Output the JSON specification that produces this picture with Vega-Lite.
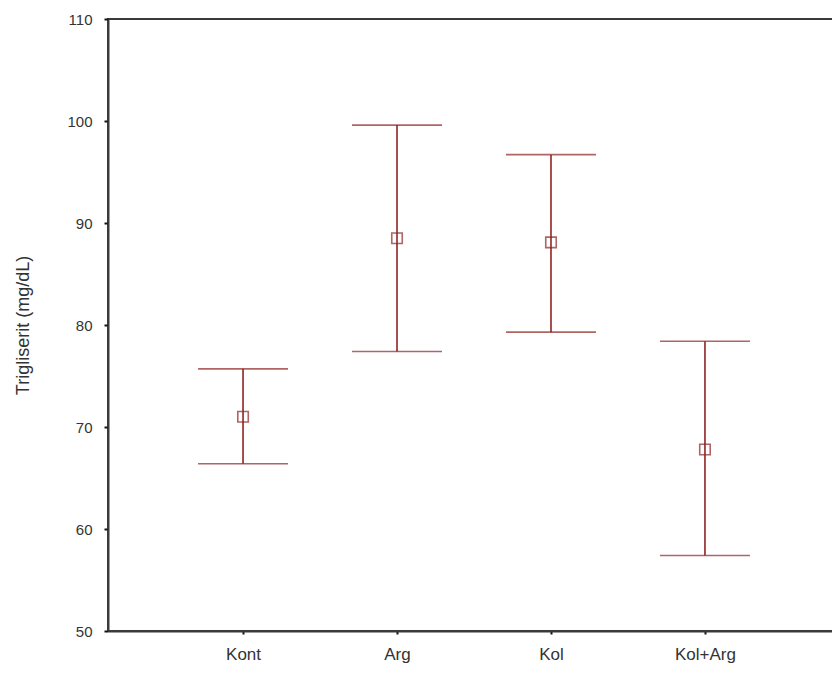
{
  "$schema": "https://vega.github.io/schema/vega-lite/v6.json",
  "width": 732,
  "height": 612,
  "autosize": {"type": "none"},
  "padding": {"left": 108, "top": 19, "right": 0, "bottom": 42},
  "background": "white",
  "config": {
    "view": {"stroke": "#3a3a3a", "strokeWidth": 2},
    "font": "Liberation Sans"
  },
  "data": {
    "values": [
      {"group": "Kont", "mean": 71.0, "lower": 66.4, "upper": 75.7},
      {"group": "Arg", "mean": 88.5, "lower": 77.4, "upper": 99.6},
      {"group": "Kol", "mean": 88.1, "lower": 79.3, "upper": 96.7},
      {"group": "Kol+Arg", "mean": 67.8, "lower": 57.4, "upper": 78.4}
    ]
  },
  "encoding": {
    "x": {
      "field": "group",
      "type": "nominal",
      "sort": null,
      "scale": {"type": "point", "padding": 0.877},
      "axis": {
        "title": null,
        "labelAngle": 0,
        "labelFontSize": 17,
        "labelColor": "#333",
        "labelPadding": 12,
        "tickSize": 3,
        "tickWidth": 2,
        "tickColor": "#111",
        "domainColor": "#3a3a3a",
        "domainWidth": 2
      }
    }
  },
  "layer": [
    {
      "mark": {"type": "rule", "color": "#8e2424", "strokeWidth": 1.6},
      "encoding": {
        "y": {
          "field": "lower",
          "type": "quantitative",
          "scale": {"domain": [50, 110], "nice": false, "zero": false},
          "axis": {
            "title": "Trigliserit (mg/dL)",
            "titleFontSize": 18,
            "titleFontWeight": "normal",
            "titleColor": "#333",
            "titlePadding": 34,
            "values": [50, 60, 70, 80, 90, 100, 110],
            "labelFontSize": 15,
            "labelColor": "#333",
            "labelPadding": 12,
            "tickSize": 4,
            "tickWidth": 2,
            "tickColor": "#111",
            "domainColor": "#3a3a3a",
            "domainWidth": 2,
            "grid": false
          }
        },
        "y2": {"field": "upper"}
      }
    },
    {
      "mark": {"type": "tick", "color": "#8e2424", "size": 90, "thickness": 1.6, "orient": "horizontal"},
      "encoding": {"y": {"field": "upper", "type": "quantitative"}}
    },
    {
      "mark": {"type": "tick", "color": "#8e2424", "size": 90, "thickness": 1.6, "orient": "horizontal"},
      "encoding": {"y": {"field": "lower", "type": "quantitative"}}
    },
    {
      "mark": {"type": "point", "shape": "square", "filled": false, "color": "#8e2424", "size": 110, "strokeWidth": 1.6},
      "encoding": {"y": {"field": "mean", "type": "quantitative"}}
    }
  ]
}
